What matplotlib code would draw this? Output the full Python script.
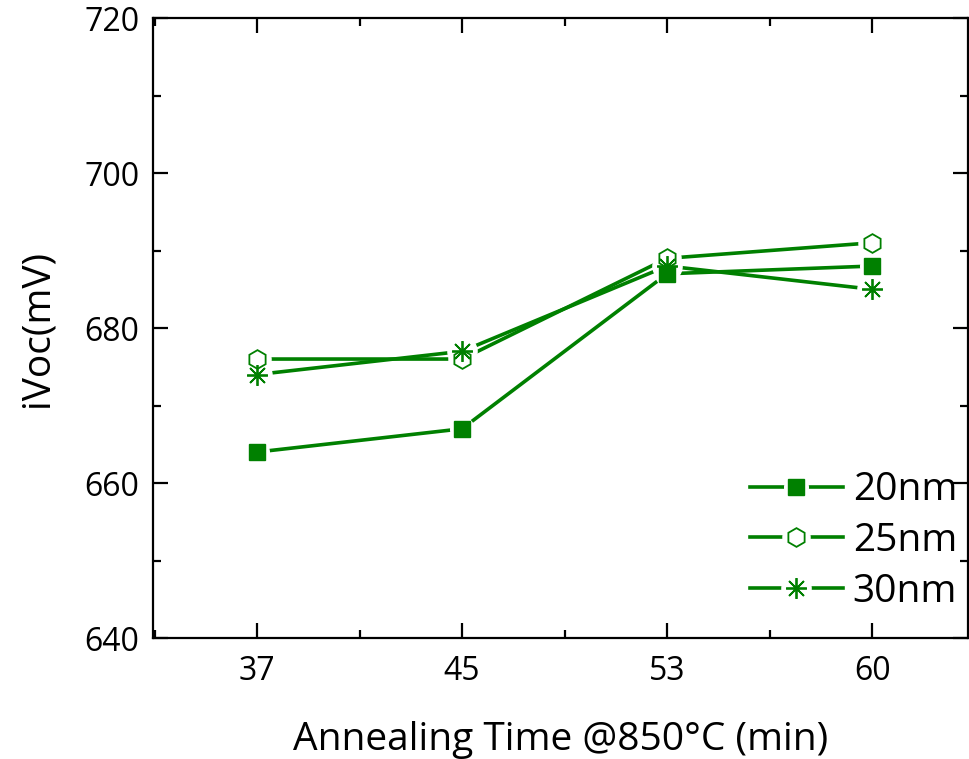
import matplotlib
matplotlib.use('Agg')
import matplotlib.pyplot as plt
from matplotlib.lines import Line2D
from matplotlib.legend_handler import HandlerTuple
from matplotlib.ticker import MultipleLocator, AutoMinorLocator

# iVoc vs annealing time for three layer thicknesses
times = ['37', '45', '53', '60']
ivoc_20nm = [664, 667, 687, 688]
ivoc_25nm = [676, 676, 689, 691]
ivoc_30nm = [674, 677, 688, 685]
labels = ['20nm', '25nm', '30nm']

plt.rcParams['font.family'] = ['Open Sans', 'DejaVu Sans']
green = '#008000'

styles = [
    dict(marker='s', ms=11, mfc=green, mec=green, mew=1.0),
    dict(marker='h', ms=13.5, mfc='white', mec=green, mew=1.3),
    dict(marker=(8, 2, 0), ms=15, mfc=green, mec=green, mew=1.3),
]

fig = plt.figure(figsize=(9.69, 7.59), dpi=100)
ax = fig.add_axes([0.158, 0.1594, 0.841, 0.8168])

xs = range(len(times))
series = [ivoc_20nm, ivoc_25nm, ivoc_30nm]

# lines first, then a white halo so the line stops short of each marker
for ys in series:
    ax.plot(xs, ys, color=green, lw=2.6, zorder=2, solid_capstyle='round')
for ys, st in zip(series, styles):
    ax.plot(xs, ys, ls='none', marker='o', ms=st['ms'] + 6, mfc='white',
            mec='white', zorder=3)
for ys, st in zip(series, styles):
    ax.plot(xs, ys, ls='none', zorder=4, **st)

ax.set_xlim(-0.507, 3.468)
ax.set_ylim(640, 720)
ax.set_xticks(list(xs))
ax.set_xticklabels(times)
ax.xaxis.set_minor_locator(MultipleLocator(0.5))
ax.yaxis.set_major_locator(MultipleLocator(20))
ax.yaxis.set_minor_locator(AutoMinorLocator(2))

ax.tick_params(which='both', direction='in', top=True, right=True,
               width=1.6, labelsize=23)
ax.tick_params(axis='x', pad=12)
ax.tick_params(axis='y', pad=10)
ax.tick_params(which='major', length=11)
ax.tick_params(which='minor', length=6)
for sp in ax.spines.values():
    sp.set_linewidth(1.6)

ax.set_xlabel('Annealing Time @850°C (min)', fontsize=28, labelpad=24)
ax.set_ylabel('iVoc(mV)', fontsize=28, labelpad=20)

handles = []
for st in styles:
    ln = Line2D([], [], color=green, lw=2.6)
    halo = Line2D([], [], ls='none', marker='o', ms=st['ms'] + 6,
                  mfc='white', mec='white')
    mk = Line2D([], [], ls='none', **st)
    handles.append((ln, halo, mk))

ax.legend(handles, labels, handler_map={tuple: HandlerTuple(ndivide=1, pad=0)},
          loc='lower right', bbox_to_anchor=(1.02, 0.0), frameon=False,
          fontsize=28, handlelength=2.4, handletextpad=0.25,
          labelspacing=0.33, borderaxespad=0.3)

fig.savefig('out.png', dpi=100)
